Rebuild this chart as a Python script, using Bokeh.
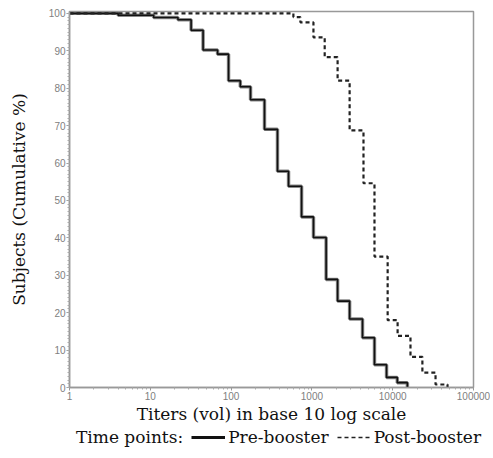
from bokeh.plotting import figure
from bokeh.layouts import column
from bokeh.models import FixedTicker, Legend, LegendItem, Range1d
from bokeh.embed import file_html
from bokeh.resources import INLINE

# Pre-booster: titer where each step starts and cumulative % from there on
pre_titers = [1, 4, 11, 22, 32, 45, 68, 93, 130, 174, 259, 375, 514, 745,
              1046, 1500, 2080, 2930, 4230, 5950, 8390, 11400, 15200]
pre_pct = [100, 99.5, 98.9, 98.3, 95.5, 90.2, 89.1, 82.0, 80.4, 76.9, 69.0, 57.8,
           53.8, 45.6, 40.1, 28.9, 23.1, 18.3, 13.3, 6.1, 2.7, 1.3, 0]

# Post-booster
post_titers = [1, 590, 720, 1045, 1440, 2080, 2930, 4350, 5950, 8660, 11500,
               16600, 23300, 33900, 47700]
post_pct = [100, 99.0, 97.6, 93.6, 88.3, 82.0, 68.7, 54.6, 35.0, 18.0, 13.8,
            8.2, 4.0, 0.8, 0]

x_major = [1, 10, 100, 1000, 10000, 100000]
x_labels = ["1", "10", "100", "1000", "10000", "100000"]
y_major = [0, 10, 20, 30, 40, 50, 60, 70, 80, 90, 100]

SERIF = "DejaVu Serif"
SANS = "Liberation Sans"
FS = "17px"

p = figure(width=490, height=426, x_axis_type="log", output_backend="svg",
           toolbar_location=None, x_range=Range1d(1, 100000), y_range=Range1d(0, 100.5),
           min_border_left=69, min_border_right=17, min_border_top=11, min_border_bottom=38)
p.grid.visible = False
p.outline_line_color = "#999999"
p.outline_line_width = 1.5
p.background_fill_color = "white"
p.border_fill_color = "white"

STYLE_PRE_HALO = dict(line_color="#8a8a8a", line_width=3.5)
STYLE_PRE = dict(line_color="#111111", line_width=1.6)
STYLE_POST = dict(line_color="#222222", line_width=2.2, line_dash="4 3")

p.step(pre_titers, pre_pct, mode="after", **STYLE_PRE_HALO)
p.step(pre_titers, pre_pct, mode="after", **STYLE_PRE)
p.step(post_titers, post_pct, mode="after", **STYLE_POST)

minor = []
for d in [1, 10, 100, 1000, 10000]:
    minor += [d * k for k in range(2, 10)]
p.xaxis.ticker = FixedTicker(ticks=x_major, minor_ticks=minor)
p.xaxis.major_label_overrides = {t: l for t, l in zip(x_major, x_labels)}
p.yaxis.ticker = FixedTicker(ticks=y_major, minor_ticks=list(range(0, 101)))

for ax in (p.xaxis[0], p.yaxis[0]):
    ax.axis_line_color = "#999999"
    ax.axis_line_width = 1.5
    ax.major_tick_line_color = "#999999"
    ax.minor_tick_line_color = "#aaaaaa"
    ax.major_tick_out = 3
    ax.major_tick_in = 0
    ax.minor_tick_out = 2
    ax.minor_tick_in = 0
    ax.major_label_text_font = SANS
    ax.major_label_text_font_size = "10px"
    ax.major_label_text_color = "#808080"
    ax.axis_label_text_font = SERIF
    ax.axis_label_text_font_size = FS
    ax.axis_label_text_font_style = "normal"
    ax.axis_label_text_color = "#111111"

p.xaxis.major_label_standoff = 1
p.yaxis.major_label_standoff = 1
p.xaxis.axis_label = "Titers (vol) in base 10 log scale"
p.yaxis.axis_label = "Subjects (Cumulative %)"
p.xaxis.axis_label_standoff = 1
p.yaxis.axis_label_standoff = 17

# legend strip below the chart; its renderers lie outside its (empty) view
q = figure(width=490, height=24, output_backend="svg", toolbar_location=None,
           x_range=Range1d(-2, -1), y_range=Range1d(-2, -1), min_border=0)
try:
    q.frame_align = False
except Exception:
    pass
q.axis.visible = False
q.grid.visible = False
q.outline_line_color = None
q.background_fill_color = "white"
q.border_fill_color = "white"
g_blank = q.step(pre_titers, pre_pct, mode="after", line_alpha=0)
g_pre = q.step(pre_titers, pre_pct, mode="after", line_color="#111111", line_width=3)
g_post = q.step(post_titers, post_pct, mode="after", line_color="#222222",
                line_width=1.5, line_dash="4 3")

legend = Legend(items=[LegendItem(label="Time points:", renderers=[g_blank]),
                       LegendItem(label="Pre-booster", renderers=[g_pre]),
                       LegendItem(label="Post-booster", renderers=[g_post])],
                orientation="horizontal",
                glyph_width=34, glyph_height=14, label_standoff=3, spacing=8,
                label_height=18,
                padding=0, margin=0, border_line_alpha=0, background_fill_alpha=0,
                label_text_font=SERIF, label_text_font_size=FS,
                label_text_color="#111111", location=(39, 3))
q.add_layout(legend)

layout = column(p, q, spacing=0)
open("out.html", "w").write(file_html(layout, INLINE))
